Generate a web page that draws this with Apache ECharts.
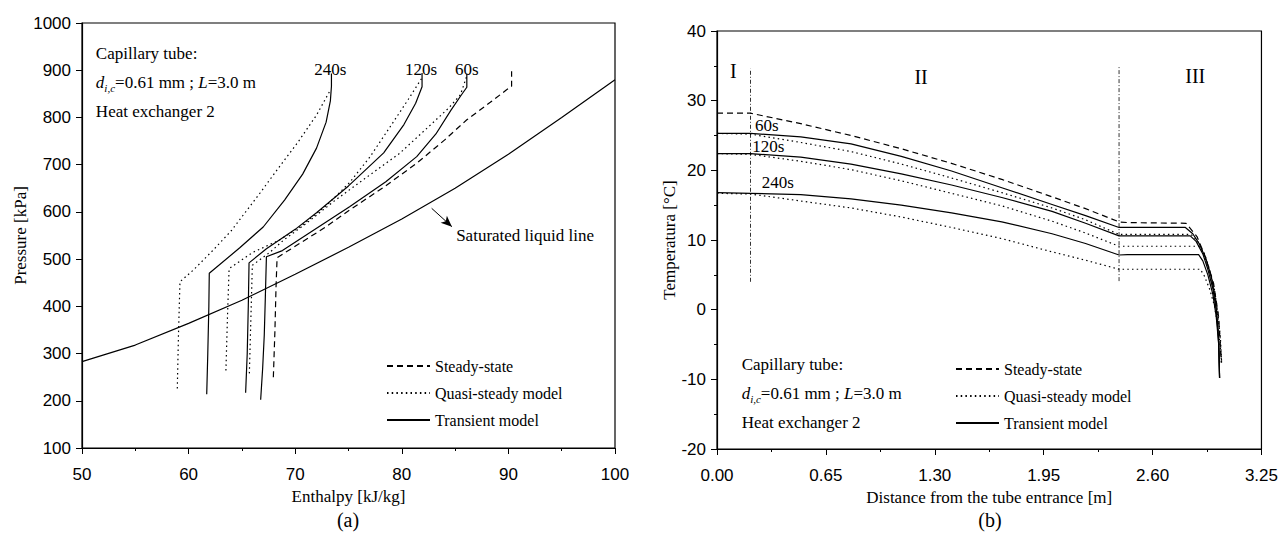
<!DOCTYPE html>
<html>
<head>
<meta charset="utf-8">
<script src="https://cdn.jsdelivr.net/npm/echarts@6/dist/echarts.min.js"></script>
<style>
html,body{margin:0;padding:0;background:#fff}
#chart{width:1281px;height:538px}
</style>
</head>
<body>
<div id="chart"></div>
<script>
// (a) pressure [kPa] vs enthalpy [kJ/kg]
var satLiquid = [[50,283],[55,318],[60,364],[65,413],[70,468],[75,525],[80,585],[85,650],[90,722],[95,800],[100,880]];
var steadyA = [[67.95,250],[68.1,350],[68.2,440],[68.3,503],[70.4,533],[72.8,567],[75.1,604],[78.3,652],[81.4,703],[84.0,752],[86.1,795],[88.3,832],[89.8,858],[90.3,866],[90.3,898]];
var transient60A = [[66.76,202],[66.95,270],[67.1,340],[67.2,420],[67.3,505],[68.8,518],[71.5,558],[75.1,611],[78.5,664],[81.4,717],[83.2,765],[84.6,815],[85.6,848],[86.1,864],[86.1,893]];
var transient120A = [[65.35,217],[65.5,300],[65.6,400],[65.67,492],[67.3,522],[70.0,563],[72.0,598],[75.0,655],[78.3,725],[80.2,785],[81.3,830],[81.9,865],[81.9,894]];
var transient240A = [[61.7,214],[61.8,300],[61.9,400],[61.94,470],[64.8,524],[67.0,568],[69.0,625],[70.7,680],[72.0,735],[72.9,790],[73.3,835],[73.4,866],[73.4,893]];
var quasi60A = [[65.7,258],[65.85,380],[65.98,487],[67.6,514],[68.9,540],[71.0,575],[73.6,622],[76.5,670],[79.8,724],[82.4,778],[84.4,820],[85.5,848],[86.1,888]];
var quasi120A = [[63.5,264],[63.65,380],[63.8,480],[66.0,514],[68.5,540],[70.5,569],[73.0,615],[75.1,662],[77.0,716],[78.9,780],[80.6,838],[81.9,884]];
var quasi240A = [[58.94,226],[59.05,340],[59.19,452],[60.5,478],[62.3,519],[64.0,560],[66.7,640],[68.5,695],[70.3,749],[72.0,805],[73.3,858]];

// (b) temperature [°C] vs distance [m]
var steadyB = [[0,28.2],[0.2,28.2],[0.5,26.7],[0.8,25.0],[1.1,23.1],[1.4,21.0],[1.7,18.7],[2.0,16.2],[2.2,14.5],[2.4,12.6],[2.45,12.5],[2.8,12.4],[2.865,10.5],[2.915,7.6],[2.964,3.8],[2.994,-1.0],[3.01,-7.6]];
var transient60B = [[0,25.3],[0.2,25.3],[0.5,24.8],[0.8,23.8],[1.1,22.0],[1.4,19.9],[1.7,17.5],[2.0,15.1],[2.2,13.5],[2.4,11.8],[2.45,11.8],[2.796,11.8],[2.84,10.9],[2.88,9.4],[2.92,7.2],[2.95,4.8],[2.975,1.5],[2.99,-2.5],[2.997,-6.0],[3.0,-9.8]];
var transient120B = [[0,22.4],[0.2,22.4],[0.5,21.9],[0.8,20.9],[1.1,19.5],[1.4,17.9],[1.7,16.1],[2.0,14.1],[2.2,12.4],[2.4,10.6],[2.45,10.6],[2.825,10.6],[2.86,9.8],[2.9,8.0],[2.93,5.8],[2.96,3.0],[2.98,0.0],[2.993,-4.0],[3.0,-9.8]];
var transient240B = [[0,16.8],[0.2,16.7],[0.5,16.5],[0.8,15.9],[1.1,15.0],[1.4,13.9],[1.7,12.6],[2.0,10.9],[2.2,9.5],[2.4,7.85],[2.45,7.9],[2.875,7.9],[2.9,7.0],[2.93,5.0],[2.96,2.2],[2.98,-1.0],[2.995,-5.0],[3.0,-9.8]];
var quasi60B = [[0,25.3],[0.2,25.2],[0.5,24.0],[0.8,22.7],[1.1,20.9],[1.4,18.9],[1.7,16.8],[2.0,14.6],[2.2,12.9],[2.4,10.8],[2.83,10.8],[2.87,9.8],[2.91,7.8],[2.95,4.6],[2.98,1.0],[3.0,-3.0],[3.012,-7.5]];
var quasi120B = [[0,22.4],[0.2,22.3],[0.5,21.3],[0.8,20.1],[1.1,18.5],[1.4,16.7],[1.7,14.9],[2.0,12.7],[2.2,11.0],[2.4,9.1],[2.885,9.1],[2.91,8.0],[2.94,5.8],[2.97,2.8],[2.99,-0.5],[3.005,-4.0],[3.012,-7.5]];
var quasi240B = [[0,16.7],[0.2,16.6],[0.5,15.6],[0.8,14.6],[1.1,13.3],[1.4,11.8],[1.7,10.2],[2.0,8.3],[2.2,7.1],[2.4,5.8],[2.885,5.8],[2.91,4.8],[2.94,3.0],[2.97,0.5],[2.99,-2.5],[3.005,-5.5],[3.012,-7.6]];
var zoneLine1 = [[0.2,4.0],[0.2,34.6]];
var zoneLine2 = [[2.4,4.1],[2.4,34.9]];

var legendNames = ['Steady-state', 'Quasi-steady model', 'Transient model'];

var serif = '"Liberation Serif","Times New Roman",serif';
var sans = '"Liberation Sans",Arial,sans-serif';
var DASH = [6, 4], DOT = [1.5, 3.2];

function ln(name, data, type, gi, width) {
  return {
    name: name, type: 'line', xAxisIndex: gi, yAxisIndex: gi, data: data,
    symbol: 'none', silent: true,
    itemStyle: {color: '#000'},
    lineStyle: {color: '#000', width: width || 1.2, type: type}
  };
}

function xAx(gi, min, max, interval, name, fmt) {
  return {
    gridIndex: gi, type: 'value', min: min, max: max, interval: interval,
    name: name, nameLocation: 'middle', nameGap: 36,
    nameTextStyle: {fontFamily: serif, fontSize: 17, color: '#000'},
    axisLine: {onZero: false, lineStyle: {color: '#000', width: 1.2}},
    axisTick: {inside: false, length: 6, lineStyle: {color: '#000'}},
    minorTick: {show: true, splitNumber: 2, length: 3, lineStyle: {color: '#000'}},
    splitLine: {show: false},
    axisLabel: {fontFamily: sans, fontSize: 17, color: '#000', margin: 18, formatter: fmt}
  };
}

function yAx(gi, min, max, interval, name, gap, minor) {
  return {
    gridIndex: gi, type: 'value', min: min, max: max, interval: interval,
    name: name, nameLocation: 'middle', nameGap: gap,
    nameTextStyle: {fontFamily: serif, fontSize: 17, color: '#000'},
    axisLine: {onZero: false, lineStyle: {color: '#000', width: 1.2}},
    axisTick: {inside: false, length: 6, lineStyle: {color: '#000'}},
    minorTick: {show: minor, splitNumber: 2, length: 3, lineStyle: {color: '#000'}},
    splitLine: {show: false},
    axisLabel: {fontFamily: sans, fontSize: 17, color: '#000', margin: 11,
                formatter: function (v) { return String(v); }}
  };
}

function legend(left, top) {
  return {
    left: left, top: top, orient: 'vertical', itemWidth: 43, itemHeight: 10, itemGap: 11,
    selectedMode: false, data: legendNames,
    itemStyle: {opacity: 0},
    textStyle: {fontFamily: serif, fontSize: 16, color: '#000'}
  };
}

var chart = echarts.init(document.getElementById('chart'), null, {renderer: 'svg'});

chart.setOption({
  animation: false,
  backgroundColor: '#fff',
  grid: [
    {left: 82, top: 23, width: 533, height: 425, show: true, borderColor: '#000', borderWidth: 1.2},
    {left: 717, top: 31, width: 546, height: 418, show: true, borderColor: '#000', borderWidth: 1.2}
  ],
  xAxis: [
    xAx(0, 50, 100, 10, 'Enthalpy [kJ/kg]'),
    xAx(1, 0, 3.25, 0.65, 'Distance from the tube entrance [m]', function (v) { return v.toFixed(2); })
  ],
  yAxis: [
    yAx(0, 100, 1000, 100, 'Pressure [kPa]', 47, false),
    yAx(1, -20, 40, 10, 'Temperatura [°C]', 23, true)
  ],
  legend: [legend(381, 353), legend(950, 356)],
  series: [
    Object.assign(ln('Saturated liquid line', satLiquid, 'solid', 0), {
      markLine: {
        silent: true, symbol: ['none', 'arrow'], symbolSize: [7, 11],
        lineStyle: {color: '#000', width: 1, type: 'solid'}, label: {show: false},
        data: [[{coord: [82.8, 607.6]}, {coord: [84.7, 568.7]}]]
      }
    }),
    ln('Steady-state', steadyA, DASH, 0),
    ln('Quasi-steady model', quasi60A, DOT, 0),
    ln('Quasi-steady model', quasi120A, DOT, 0),
    ln('Quasi-steady model', quasi240A, DOT, 0),
    ln('Transient model', transient60A, 'solid', 0),
    ln('Transient model', transient120A, 'solid', 0),
    ln('Transient model', transient240A, 'solid', 0),

    ln('zone I', zoneLine1, [4, 2, 1, 2], 1, 0.8),
    ln('zone II', zoneLine2, [4, 2, 1, 2], 1, 0.8),
    ln('Steady-state', steadyB, DASH, 1),
    ln('Quasi-steady model', quasi60B, DOT, 1),
    ln('Quasi-steady model', quasi120B, DOT, 1),
    ln('Quasi-steady model', quasi240B, DOT, 1),
    ln('Transient model', transient60B, 'solid', 1),
    ln('Transient model', transient120B, 'solid', 1),
    ln('Transient model', transient240B, 'solid', 1)
  ]
});

// annotations, placed in data coordinates
function label(gi, pt, text, size, align, vAlign, rich) {
  var p = chart.convertToPixel({gridIndex: gi}, pt);
  var st = {text: text, fontFamily: serif, fontSize: size, fill: '#000',
            align: align || 'center', verticalAlign: vAlign || 'middle'};
  if (rich) { st.rich = rich; st.lineHeight = 29; }
  return {type: 'text', x: p[0], y: p[1], style: st, silent: true};
}

var infoRich = {
  n: {fontFamily: serif, fontSize: 17, fill: '#000', lineHeight: 29},
  i: {fontFamily: serif, fontSize: 17, fontStyle: 'italic', fill: '#000', lineHeight: 29},
  sub: {fontFamily: serif, fontSize: 11, fontStyle: 'italic', fill: '#000', lineHeight: 29, padding: [11, 0, 0, 0]}
};
var infoText = '{n|Capillary tube:}\n{i|d}{sub|i,c}{n|=0.61 mm ; }{i|L}{n|=3.0 m}\n{n|Heat exchanger 2}';

chart.setOption({
  graphic: [
    label(0, [51.3, 967], infoText, 17, 'left', 'top', infoRich),
    label(1, [0.147, -5.8], infoText, 17, 'left', 'top', infoRich),
    label(0, [73.3, 902], '240s', 17),
    label(0, [81.8, 902], '120s', 17),
    label(0, [86.1, 902], '60s', 17),
    label(0, [85.1, 551], 'Saturated liquid line', 17, 'left'),
    label(1, [0.298, 26.4], '60s', 17),
    label(1, [0.307, 23.4], '120s', 17),
    label(1, [0.363, 18.2], '240s', 17),
    label(1, [0.097, 34.2], 'I', 20),
    label(1, [1.218, 33.4], 'II', 20),
    label(1, [2.855, 33.5], 'III', 20),
    {type: 'text', x: 348, y: 520, silent: true,
     style: {text: '(a)', fontFamily: serif, fontSize: 20, fill: '#000', align: 'center', verticalAlign: 'middle'}},
    {type: 'text', x: 990, y: 520, silent: true,
     style: {text: '(b)', fontFamily: serif, fontSize: 20, fill: '#000', align: 'center', verticalAlign: 'middle'}}
  ]
});
</script>
</body>
</html>
